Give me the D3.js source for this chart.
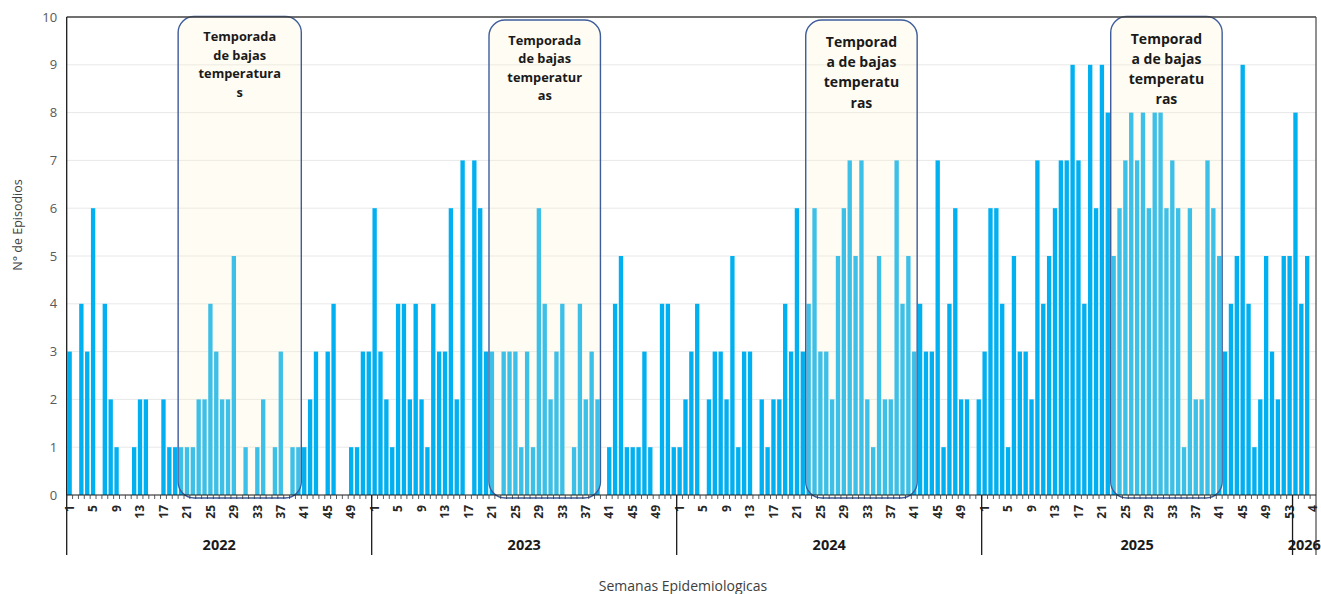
<!DOCTYPE html>
<html lang="es">
<head>
<meta charset="UTF-8">
<script src="https://cdn.jsdelivr.net/npm/d3@7"></script>
<title>Episodios por semana epidemiologica</title>
<style>
    body { margin: 0; background: #fff; }
    svg { display: block; font-family: "Open Sans", "Noto Sans", sans-serif; }
    .grid line { stroke: #e8e8e8; stroke-width: 1; }
    .ylab { font-size: 13px; fill: #595959; }
    .wk { font-size: 12px; font-weight: bold; fill: #262626; }
    .yr { font-size: 14.5px; font-weight: bold; fill: #1a1a1a; }
    .ttl { font-size: 14px; fill: #404040; }
    .season rect { fill: rgba(255, 242, 203, 0.24); stroke: #3d5c9c; stroke-width: 1.4; }
    .season text { font-weight: bold; fill: #1a1a1a; text-anchor: middle; }
</style>
</head>
<body>
<div id="chart"></div>
<script>
    // weekly episode counts
    const years = ["2022", "2023", "2024", "2025", "2026"];
    const ep2022 = [3,0,4,3,6,0,4,2,1,0,0,1,2,2,0,0,2,1,1,1,1,1,2,2,4,3,2,2,5,0,1,0,1,2,0,1,3,0,1,1,1,2,3,0,3,4,0,0,1,1,3,3];
    const ep2023 = [6,3,2,1,4,4,2,4,2,1,4,3,3,6,2,7,0,7,6,3,3,0,3,3,3,1,3,1,6,4,2,3,4,0,1,4,2,3,2,0,1,4,5,1,1,1,3,1,0,4,4,1];
    const ep2024 = [1,2,3,4,0,2,3,3,2,5,1,3,3,0,2,1,2,2,4,3,6,3,4,6,3,3,2,5,6,7,5,7,2,1,5,2,2,7,4,5,3,4,3,3,7,1,4,6,2,2,0,2];
    const ep2025 = [3,6,6,4,1,5,3,3,2,7,4,5,6,7,7,9,7,4,9,6,9,8,5,6,7,8,7,8,6,8,8,6,7,6,1,6,2,2,7,6,5,3,4,5,9,4,1,2,5,3,2,5,5];
    const ep2026 = [8,4,5,null];
    const series = [ep2022, ep2023, ep2024, ep2025, ep2026];
    const yTicks = [0,1,2,3,4,5,6,7,8,9,10];

    // cold season annotations (year, first week, last week, wrapped label)
    const seasonYear = ["2022", "2023", "2024", "2025"];
    const seasonFrom = [20, 21, 23, 23];
    const seasonTo = [40, 39, 41, 41];
    const seasonLines = [
        ["Temporada", "de bajas", "temperatura", "s"],
        ["Temporada", "de bajas", "temperatur", "as"],
        ["Temporad", "a de bajas", "temperatu", "ras"],
        ["Temporad", "a de bajas", "temperatu", "ras"]
    ];

    const width = 1321, height = 594;
    const margin = { top: 17, right: 5, bottom: 99, left: 66.7 };
    const innerW = width - margin.left - margin.right;
    const innerH = height - margin.top - margin.bottom;

    const rows = [];
    years.forEach((yr, j) => {
        series[j].forEach((v, k) => rows.push({ year: yr, week: k + 1, value: v, key: yr + "-" + (k + 1) }));
    });

    const x = d3.scaleBand()
        .domain(rows.map(d => d.key))
        .range([0, innerW])
        .paddingInner(0.26)
        .paddingOuter(0.13);
    const step = x.step();
    const y = d3.scaleLinear().domain([0, 10]).range([innerH, 0]);

    const svg = d3.select("#chart").append("svg")
        .attr("width", width)
        .attr("height", height);
    const g = svg.append("g").attr("transform", `translate(${margin.left},${margin.top})`);

    // gridlines
    g.append("g").attr("class", "grid")
        .selectAll("line")
        .data(yTicks.slice(1, -1))
        .enter().append("line")
        .attr("x1", 0).attr("x2", innerW)
        .attr("y1", d => y(d)).attr("y2", d => y(d));

    // bars
    g.append("g").selectAll("rect")
        .data(rows.filter(d => d.value))
        .enter().append("rect")
        .attr("x", d => x(d.key))
        .attr("width", x.bandwidth())
        .attr("y", d => y(d.value))
        .attr("height", d => innerH - y(d.value))
        .attr("fill", "#00b0f0");

    // season boxes on top of the bars
    const leftOf = key => x(key) - x.step() * x.paddingInner() / 2;
    seasonYear.forEach((yr, i) => {
        const x0 = leftOf(yr + "-" + seasonFrom[i]);
        const x1 = leftOf(yr + "-" + seasonTo[i]) + step;
        const top = (i === 1 || i === 2) ? 3 : -0.5;
        const big = i >= 2;
        const sg = g.append("g").attr("class", "season");
        sg.append("rect")
            .attr("x", x0).attr("y", top)
            .attr("width", x1 - x0).attr("height", innerH + 3 - top)
            .attr("rx", 16).attr("ry", 16);
        sg.selectAll("text")
            .data(seasonLines[i])
            .enter().append("text")
            .attr("x", (x0 + x1) / 2)
            .attr("y", (d, k) => top + (big ? 27 : 24.5) + k * (big ? 20.2 : 18.5))
            .style("font-size", big ? "14px" : "12.8px")
            .text(d => d);
    });

    // frame
    g.append("line").attr("x1", 0).attr("x2", innerW).attr("y1", 0).attr("y2", 0)
        .attr("stroke", "#404040").attr("stroke-width", 1.3);
    g.append("line").attr("x1", innerW).attr("x2", innerW).attr("y1", 0).attr("y2", innerH + 60)
        .attr("stroke", "#555").attr("stroke-width", 1.3);
    g.append("line").attr("x1", 0).attr("x2", 0).attr("y1", 0).attr("y2", innerH + 60)
        .attr("stroke", "#1a1a1a").attr("stroke-width", 1.3);

    // y axis labels
    g.append("g").selectAll("text")
        .data(yTicks)
        .enter().append("text")
        .attr("class", "ylab")
        .attr("x", -9.5)
        .attr("y", d => y(d))
        .attr("dy", "0.35em")
        .attr("text-anchor", "end")
        .text(d => d);

    // x axis line and category ticks
    g.append("line").attr("x1", 0).attr("x2", innerW).attr("y1", innerH).attr("y2", innerH)
        .attr("stroke", "#1a1a1a").attr("stroke-width", 1.2);
    g.append("g").selectAll("line")
        .data(rows)
        .enter().append("line")
        .attr("x1", d => leftOf(d.key)).attr("x2", d => leftOf(d.key))
        .attr("y1", innerH).attr("y2", innerH + 4)
        .attr("stroke", "#333").attr("stroke-width", 0.8);

    // week labels every 4 categories
    g.append("g").selectAll("text")
        .data(rows.filter((d, i) => i % 4 === 0))
        .enter().append("text")
        .attr("class", "wk")
        .attr("transform", d => `translate(${x(d.key) + x.bandwidth() / 2},${innerH + 10}) rotate(-90)`)
        .attr("dy", "0.35em")
        .attr("text-anchor", "end")
        .text(d => d.week);

    // year groups
    const groups = years.map((yr, j) => {
        const first = leftOf(yr + "-1");
        return { year: yr, x0: first, x1: first + series[j].length * step };
    });
    g.append("g").selectAll("line")
        .data(groups.slice(1))
        .enter().append("line")
        .attr("x1", d => d.x0).attr("x2", d => d.x0)
        .attr("y1", innerH).attr("y2", innerH + 60)
        .attr("stroke", "#1a1a1a").attr("stroke-width", 1.3);
    g.append("g").selectAll("text")
        .data(groups)
        .enter().append("text")
        .attr("class", "yr")
        .attr("x", d => (d.x0 + d.x1) / 2)
        .attr("y", innerH + 50)
        .attr("dy", "0.35em")
        .attr("text-anchor", "middle")
        .text(d => d.year);

    // axis titles
    svg.append("text").attr("class", "ttl")
        .attr("x", 683).attr("y", 586)
        .attr("dy", "0.35em")
        .attr("text-anchor", "middle")
        .text("Semanas Epidemiologicas");
    svg.append("text").attr("class", "ttl")
        .attr("transform", "translate(18,225) rotate(-90)")
        .attr("dy", "0.35em")
        .attr("text-anchor", "middle")
        .style("font-size", "12.5px")
        .text("N° de Episodios");
</script>
</body>
</html>
